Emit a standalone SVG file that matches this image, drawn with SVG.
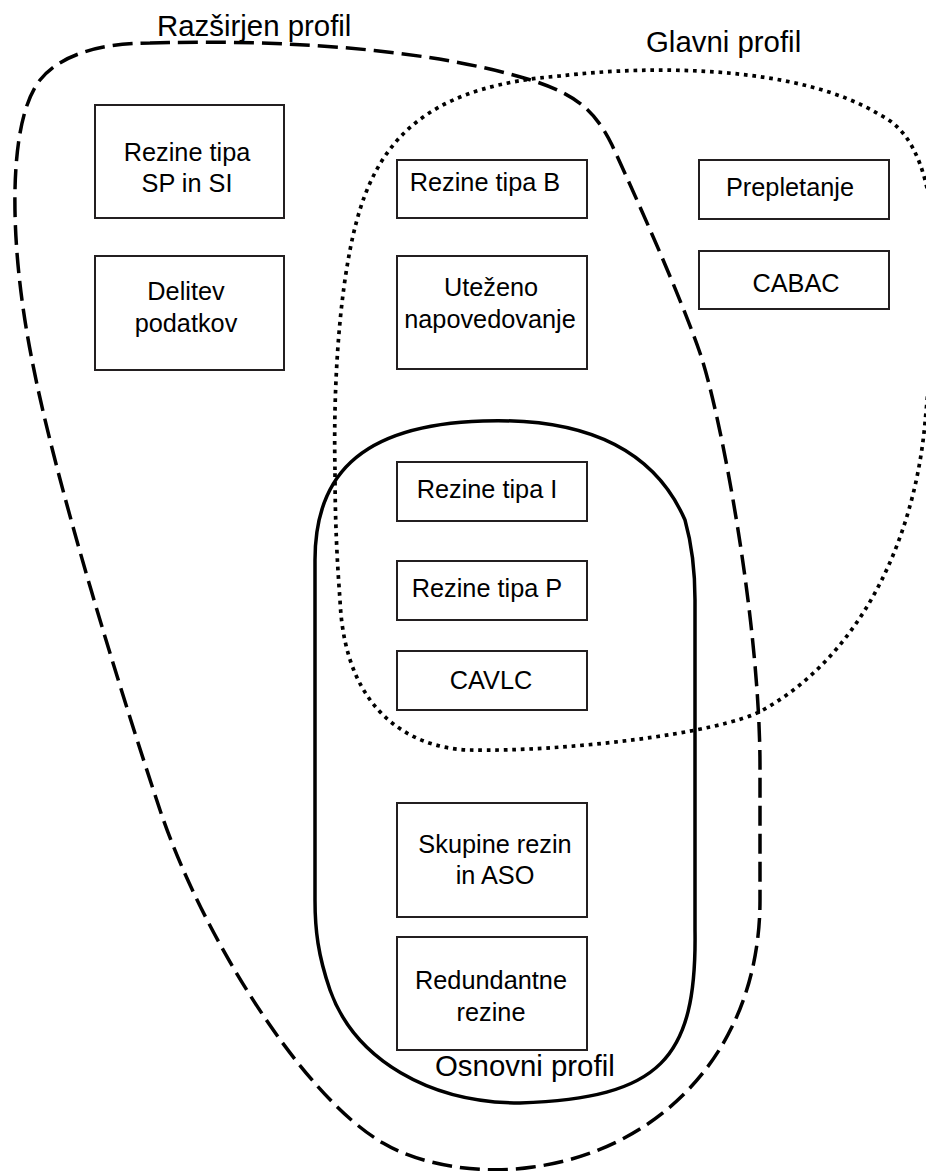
<svg xmlns="http://www.w3.org/2000/svg" width="926" height="1171" viewBox="0 0 926 1171">
  <style>
    .box rect { fill: #ffffff; stroke: #231f20; stroke-width: 2; }
    .box text, .label { font-family: "Liberation Sans", Arial, sans-serif; fill: #000000; }
    .box text { font-size: 25.3px; text-anchor: middle; }
    .label { font-size: 29.4px; }
    .hull { fill: none; stroke: #000000; stroke-width: 3.5; stroke-linejoin: round; }
    .extended { stroke-dasharray: 20 8; }
    .main { stroke-width: 3.7; stroke-dasharray: 3.7 4.8; }
  </style>
  <rect x="0" y="0" width="926" height="1171" fill="#ffffff"/>

  <!-- profile outlines -->
  <g id="connectors">
    <!-- Razširjen profil (dashed) -->
    <path class="hull extended" d="M 150,43 C 250,40 420,44 537,82 C 575,95 595,110 612,145 C 635,195 680,295 700,353 C 720,411 760,620 760,767 L 760,900 C 760,1050 660,1150 533,1167 C 480,1175 420,1165 383,1143 C 300,1095 200,930 160,810 C 120,690 55,480 32,360 C 8,240 8,120 40,80 C 60,55 100,43 150,43 Z"/>
    <!-- Glavni profil (dotted) -->
    <path class="hull main" d="M 335,470 C 333,380 340,260 365,195 C 390,130 440,85 560,76 C 650,65 800,65 880,115 C 955,150 934,323 925,423 C 914,543 859,656 763,710 C 720,734 560,752 470,750 C 420,749 345,720 340,600 C 337,560 335,520 335,470 Z"/>
    <!-- Osnovni profil (solid) -->
    <path class="hull" d="M 315,560 C 315,480 355,425 483,421 C 570,418 650,440 685,520 C 692,545 695,575 695,600 L 695,930 C 697,1060 660,1098 520,1103 C 430,1103 355,1060 330,990 C 318,955 315,930 315,900 Z"/>
  </g>

  <!-- profile names -->
  <text id="label-extended" class="label" x="157" y="36">Razširjen profil</text>
  <text id="label-main" class="label" x="646" y="52">Glavni profil</text>
  <text id="label-baseline" class="label" x="435" y="1076">Osnovni profil</text>

  <!-- feature boxes -->
  <g id="sp-si" class="box">
    <rect x="95" y="105" width="189" height="113"/>
    <text x="187" y="161">Rezine tipa</text>
    <text x="187" y="192">SP in SI</text>
  </g>
  <g id="data-partitioning" class="box">
    <rect x="95" y="256" width="189" height="114"/>
    <text x="186" y="300">Delitev</text>
    <text x="186" y="332">podatkov</text>
  </g>
  <g id="b-slices" class="box">
    <rect x="397" y="160" width="190" height="58"/>
    <text x="485" y="191">Rezine tipa B</text>
  </g>
  <g id="weighted-prediction" class="box">
    <rect x="397" y="256" width="190" height="113"/>
    <text x="491" y="296">Uteženo</text>
    <text x="490" y="328">napovedovanje</text>
  </g>
  <g id="interlace" class="box">
    <rect x="699" y="160" width="190" height="59"/>
    <text x="790" y="196">Prepletanje</text>
  </g>
  <g id="cabac" class="box">
    <rect x="699" y="251" width="190" height="58"/>
    <text x="796" y="292">CABAC</text>
  </g>
  <g id="i-slices" class="box">
    <rect x="397" y="462" width="190" height="59"/>
    <text x="487" y="498">Rezine tipa I</text>
  </g>
  <g id="p-slices" class="box">
    <rect x="397" y="561" width="190" height="59"/>
    <text x="487" y="597">Rezine tipa P</text>
  </g>
  <g id="cavlc" class="box">
    <rect x="397" y="651" width="190" height="59"/>
    <text x="491" y="689">CAVLC</text>
  </g>
  <g id="slice-groups" class="box">
    <rect x="397" y="803" width="190" height="114"/>
    <text x="495" y="853">Skupine rezin</text>
    <text x="495" y="884">in ASO</text>
  </g>
  <g id="redundant-slices" class="box">
    <rect x="397" y="937" width="190" height="113"/>
    <text x="491" y="989">Redundantne</text>
    <text x="491" y="1021">rezine</text>
  </g>
</svg>
